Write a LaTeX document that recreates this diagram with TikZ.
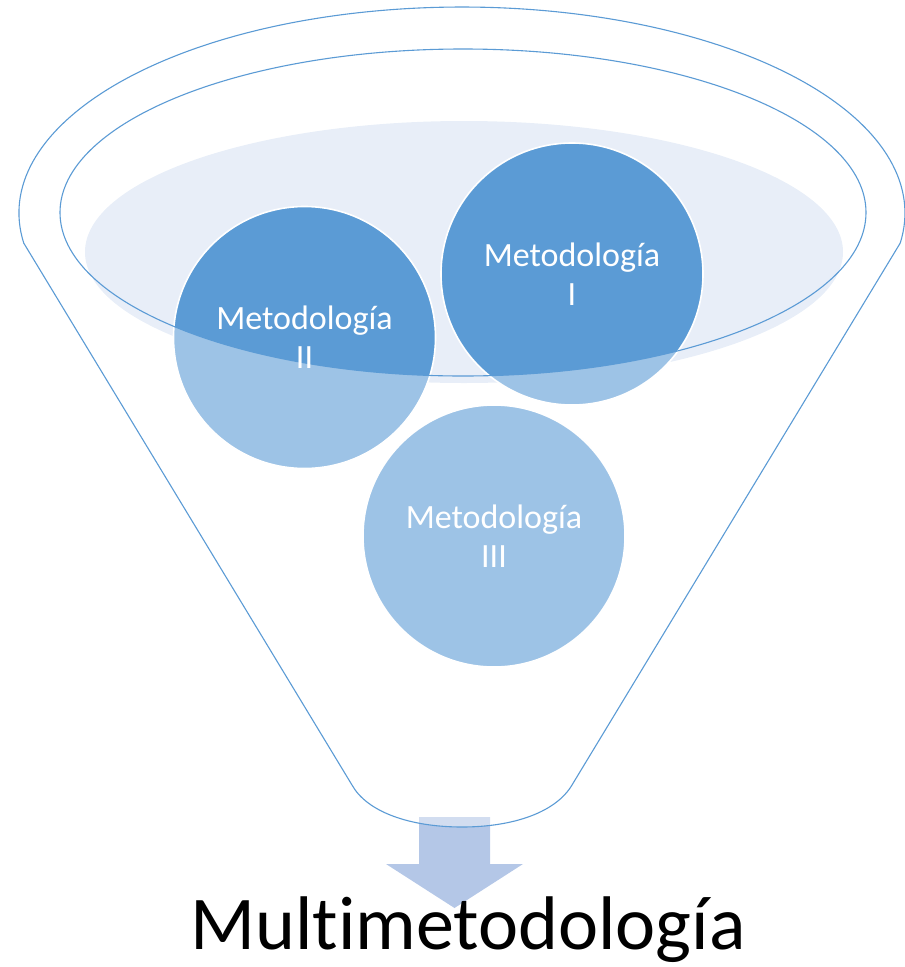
\documentclass[tikz,border=0pt]{standalone}
\usepackage{fontspec}
\newfontfamily\carlito[Ligatures=NoCommon]{Carlito}
\definecolor{lineblue}{RGB}{91,155,213}
\definecolor{darkc}{RGB}{91,155,213}
\definecolor{lightc}{RGB}{157,195,230}
\definecolor{liquidc}{RGB}{232,238,248}
\definecolor{arrowc}{RGB}{180,199,231}
\tikzset{
  outline/.style={draw=lineblue, line width=1.1pt},
  circborder/.style={draw=white, line width=1.6pt},
  circtext/.style={circle, minimum size=262pt, inner sep=0pt, text=white, align=center,
     font=\carlito\fontsize{34}{39}\selectfont},
  titletext/.style={anchor=base, inner sep=0pt, text=black, font=\carlito\fontsize{76}{80}\selectfont}
}
\begin{document}
\begin{tikzpicture}[x=1pt,y=-1pt]
\useasboundingbox (0,0) rectangle (905,967);
\coordinate (c1) at (572,274);
\coordinate (c2) at (304.5,337.5);
\coordinate (c3) at (494,536);
\coordinate (ie) at (463,212.5);
\coordinate (se) at (464,252);
\coordinate (lc) at (23.75,243.1);
\coordinate (rc) at (900.25,243.1);
\coordinate (lb) at (352,785);
\coordinate (rb) at (572,785);
\coordinate (bm) at (462,827);
% arrow
\fill[arrowc] (419,817) -- (490,817) -- (490,864) -- (523,864) -- (454.5,908) -- (386,864) -- (419,864) -- cycle;
% funnel interior lightening
\fill[white, opacity=0.4] (lc) arc[start angle=188.4, end angle=-8.4, x radius=443pt, y radius=206pt]
  -- (rb) .. controls (556,812) and (514,827) .. (bm) .. controls (410,827) and (367,812) .. (lb) -- cycle;
% liquid ellipse
\fill[liquidc] (se) ellipse[x radius=379pt, y radius=131pt];
% circles light
\fill[lightc] (c1) circle[radius=131pt];
\fill[lightc] (c2) circle[radius=131pt];
\fill[lightc] (c3) circle[radius=131pt];
% dark parts inside inner ellipse
\begin{scope}
\clip (ie) ellipse[x radius=403pt, y radius=163.5pt];
\fill[darkc] (c1) circle[radius=131pt];
\fill[darkc] (c2) circle[radius=131pt];
\fill[darkc] (c3) circle[radius=131pt];
\end{scope}
\draw[circborder] (c1) circle[radius=131pt];
\draw[circborder] (c2) circle[radius=131pt];
\draw[circborder] (c3) circle[radius=131pt];
% inner ellipse
\draw[outline] (ie) ellipse[x radius=403pt, y radius=163.5pt];
% funnel outline
\draw[outline] (lc) arc[start angle=188.4, end angle=-8.4, x radius=443pt, y radius=206pt]
  -- (rb) .. controls (556,812) and (514,827) .. (bm) .. controls (410,827) and (367,812) .. (lb) -- cycle;
% texts
\node[circtext] (m1) at (c1) {Metodología\\I};
\node[circtext] (m2) at (c2) {Metodología\\II};
\node[circtext] (m3) at (c3) {Metodología\\III};
\node[titletext] (title) at (468,949) {Multimetodología};
\end{tikzpicture}
\end{document}
